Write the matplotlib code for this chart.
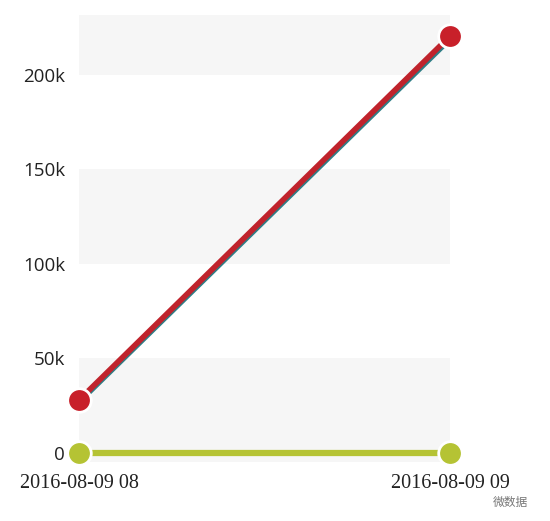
import matplotlib
matplotlib.use("Agg")
import matplotlib.pyplot as plt

categories = ["2016-08-09 08", "2016-08-09 09"]
series_red = [28000, 220500]
series_teal = [27000, 219000]
series_green = [0, 0]
ytick_vals = [0, 50000, 100000, 150000, 200000]
ytick_labels = ["0", "50k", "100k", "150k", "200k"]

W, H = 550, 521
fig = plt.figure(figsize=(W / 100, H / 100), dpi=100)
left, right, top, bottom = 79, 450, 15, 462
ax = fig.add_axes([left / W, 1 - bottom / H, (right - left) / W, (bottom - top) / H])
x = list(range(len(categories)))
ax.set_xlim(0, 1)
ax.set_ylim(-4760, 231700)

# alternating bands
bands = [(0, 50000), (100000, 150000), (200000, 231700)]
for lo, hi in bands:
    ax.axhspan(lo if lo > 0 else -4760, hi, color="#f6f6f6", lw=0, zorder=0)

ax.plot(x, series_teal, color="#2e7d85", lw=4, solid_capstyle="butt", zorder=2, clip_on=False)
ax.plot(x, series_red, color="#c0232c", lw=4, solid_capstyle="butt", zorder=3, clip_on=False,
        marker="o", ms=17, mfc="#c8202a", mec="white", mew=2)
ax.plot(x, series_green, color="#b5c334", lw=4.5, solid_capstyle="butt", zorder=3, clip_on=False,
        marker="o", ms=17, mfc="#b5c334", mec="white", mew=2)

for s in ax.spines.values():
    s.set_visible(False)
ax.set_xticks(x)
ax.set_xticklabels(categories, family="Liberation Serif", fontsize=14.5, color="#222222")
ax.set_yticks(ytick_vals)
ax.set_yticklabels(ytick_labels, family="Open Sans", fontsize=13.5, color="#222222")
ax.tick_params(length=0)
ax.tick_params(axis="y", pad=10)
ax.tick_params(axis="x", pad=9)

fig.text(510 / W, 1 - 502 / H, "微数据", family=["Noto Sans CJK SC", "DejaVu Sans"],
         fontsize=8.5, color="#777777", ha="center", va="center")

fig.savefig("out.png", dpi=100)
